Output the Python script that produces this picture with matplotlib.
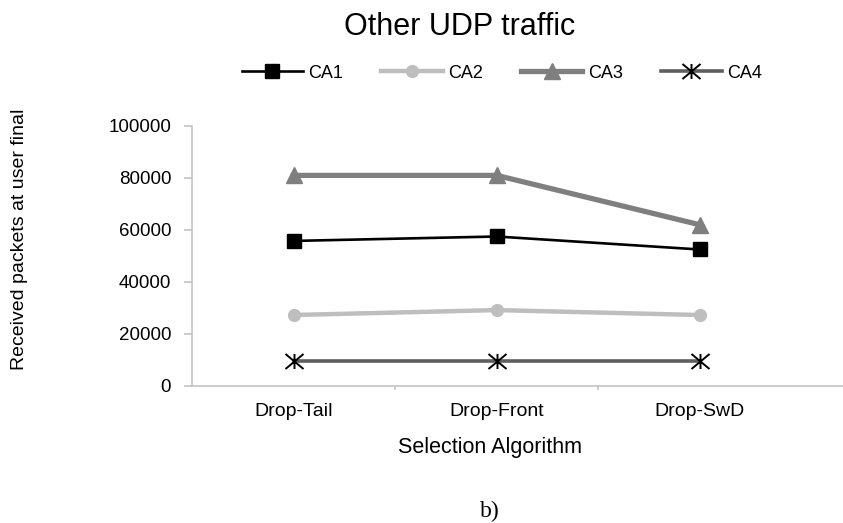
import numpy as np
import matplotlib
matplotlib.use("Agg")
import matplotlib.pyplot as plt
from matplotlib.path import Path

# data
categories = ["Drop-Tail", "Drop-Front", "Drop-SwD"]
ca1 = [55800, 57500, 52500]
ca2 = [27300, 29200, 27300]
ca3 = [81000, 81000, 62000]
ca4 = [9800, 9800, 9800]
y_ticks = [0, 20000, 40000, 60000, 80000, 100000]

plt.rcParams["font.family"] = ["Liberation Sans", "DejaVu Sans"]

# excel "star" marker: an X with a vertical stroke
star = Path([(-1.2, -1), (1.2, 1), (-1.2, 1), (1.2, -1), (0, -1), (0, 1)],
            [Path.MOVETO, Path.LINETO, Path.MOVETO, Path.LINETO, Path.MOVETO, Path.LINETO])

W, H = 843, 523
fig = plt.figure(figsize=(W / 100, H / 100), dpi=100)
ax = fig.add_axes([192 / W, 1 - 386 / H, (W - 192) / W, 260 / H])

x = np.arange(len(categories))

ax.plot(x, ca1, color="black", lw=1.9, marker="s", ms=10.5, mfc="black", mec="black",
        label="CA1", zorder=4)
ax.plot(x, ca2, color="#BEBEBE", lw=3.2, marker="o", ms=8.5, mfc="#BEBEBE", mec="#BEBEBE",
        label="CA2", zorder=3)
ax.plot(x, ca3, color="#7F7F7F", lw=3.8, marker="^", ms=11, mfc="#7F7F7F", mec="#7F7F7F",
        label="CA3", zorder=3)
ax.plot(x, ca4, color="#5E5E5E", lw=2.6, marker=star, ms=13, mfc="none", mec="black",
        mew=1.4, label="CA4", zorder=3)

# axes, excel style
ax.set_xlim(-0.5, (W - 294) / 203)
ax.set_ylim(0, 100000)
ax.set_yticks(y_ticks)
ax.set_yticklabels([str(v) for v in y_ticks], fontsize=13.5)
ax.set_xticks(x)
ax.set_xticklabels(categories, fontsize=14)
ax.set_xticks([0.5, 1.5], minor=True)
ax.tick_params(axis="x", which="major", length=0, pad=12)
ax.tick_params(axis="x", which="minor", length=3, width=1.1, color="#BFBFBF", direction="out")
ax.tick_params(axis="y", length=6, width=1.1, color="#BFBFBF", pad=9)

for s in ["top", "right"]:
    ax.spines[s].set_visible(False)
for s in ["left", "bottom"]:
    ax.spines[s].set_color("#BFBFBF")
    ax.spines[s].set_linewidth(1.1)

# texts
fig.text(460 / W, 1 - 27 / H, "Other UDP traffic", fontsize=22, ha="center", va="center")
fig.text(490 / W, 1 - 448 / H, "Selection Algorithm", fontsize=15.5, ha="center", va="center")
fig.text(20 / W, 1 - 239 / H, "Received packets at user final", fontsize=14, rotation=90,
         ha="center", va="center")
fig.text(490 / W, 1 - 511 / H, "b)", fontsize=17, ha="center", va="center",
         family="Liberation Serif")

fig.legend(loc="center", bbox_to_anchor=(502 / W, 1 - 73 / H), ncol=4, frameon=False,
           fontsize=13, handlelength=3.4, handletextpad=0.3, columnspacing=2.1)

fig.savefig("out.png", dpi=100)
